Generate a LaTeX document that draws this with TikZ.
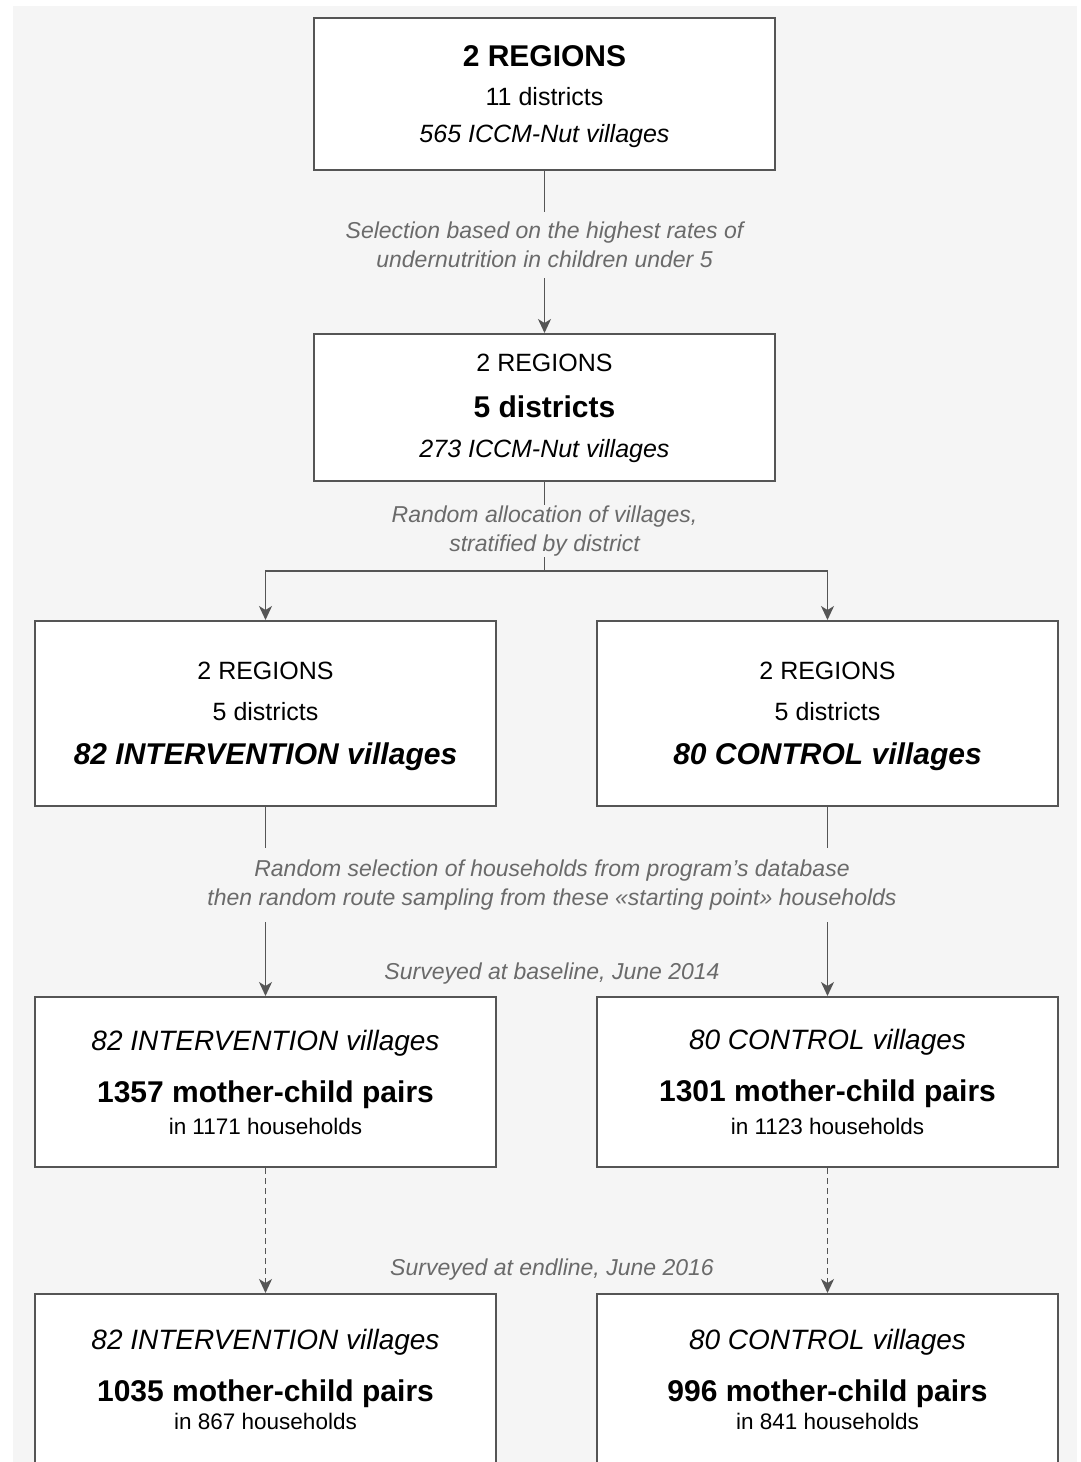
\documentclass[tikz,border=0pt]{standalone}
\usepackage{fontspec}
\setmainfont{Liberation Sans}
\usetikzlibrary{arrows.meta}
\definecolor{bgcol}{HTML}{F5F5F5}
\definecolor{edgecol}{HTML}{555555}
\definecolor{labcol}{HTML}{6A6A6A}
\newcommand{\fbig}{\fontsize{30}{36}\selectfont}
\newcommand{\freg}{\fontsize{25}{30}\selectfont}
\newcommand{\fmed}{\fontsize{28}{33}\selectfont}
\newcommand{\fsml}{\fontsize{22.5}{27}\selectfont}
\newcommand{\flab}{\fontsize{23}{28.5}\selectfont}

\begin{document}
\begin{tikzpicture}[x=1pt,y=-1pt,
    box/.style={draw=edgecol,line width=2pt,fill=white,minimum width=461pt,inner sep=0pt},
    txt/.style={anchor=base,inner sep=0pt,text=black},
    lbl/.style={text=labcol,align=center,font=\flab\itshape,inner sep=0pt},
    note/.style={text=labcol,anchor=base,font=\flab\itshape,inner sep=0pt},
    conn/.style={draw=edgecol,line width=1.4pt},
    arr/.style={conn,-{Stealth[length=14pt,width=13pt,inset=4pt]}}]
\useasboundingbox (0,0) rectangle (1080,1462);
\fill[bgcol] (13,6) rectangle (1077,1462);

\node[box,minimum height=152pt] (top) at (544.5,94) {};
\node[box,minimum height=147pt] (sel) at (544.5,407.5) {};
\node[box,minimum height=185pt] (intv) at (265.5,713.5) {};
\node[box,minimum height=185pt] (ctrl) at (827.5,713.5) {};
\node[box,minimum height=170pt] (bl1) at (265.5,1082) {};
\node[box,minimum height=170pt] (bl2) at (827.5,1082) {};
\node[box,minimum height=174pt] (el1) at (265.5,1381) {};
\node[box,minimum height=174pt] (el2) at (827.5,1381) {};

\node[txt,font=\fbig\bfseries] (topa) at (544.5,66.5) {2 REGIONS};
\node[txt,font=\freg] (topb) at (544.5,105) {11 districts};
\node[txt,font=\freg\itshape] (topc) at (544.5,142) {565 ICCM-Nut villages};

\node[txt,font=\freg] (sela) at (544.5,371) {2 REGIONS};
\node[txt,font=\fbig\bfseries] (selb) at (544.5,417) {5 districts};
\node[txt,font=\freg\itshape] (selc) at (544.5,457) {273 ICCM-Nut villages};

\node[txt,font=\freg] (intva) at (265.5,679) {2 REGIONS};
\node[txt,font=\freg] (intvb) at (265.5,720) {5 districts};
\node[txt,font=\fbig\bfseries\itshape] (intvc) at (265.5,764) {82 INTERVENTION villages};
\node[txt,font=\freg] (ctrla) at (827.5,679) {2 REGIONS};
\node[txt,font=\freg] (ctrlb) at (827.5,720) {5 districts};
\node[txt,font=\fbig\bfseries\itshape] (ctrlc) at (827.5,764) {80 CONTROL villages};

\node[txt,font=\fmed\itshape] (bl1a) at (265.5,1050) {82 INTERVENTION villages};
\node[txt,font=\fbig\bfseries] (bl1b) at (265.5,1102) {1357 mother-child pairs};
\node[txt,font=\fsml] (bl1c) at (265.5,1134) {in 1171 households};
\node[txt,font=\fmed\itshape] (bl2a) at (827.5,1049) {80 CONTROL villages};
\node[txt,font=\fbig\bfseries] (bl2b) at (827.5,1101) {1301 mother-child pairs};
\node[txt,font=\fsml] (bl2c) at (827.5,1134) {in 1123 households};

\node[txt,font=\fmed\itshape] (el1a) at (265.5,1349) {82 INTERVENTION villages};
\node[txt,font=\fbig\bfseries] (el1b) at (265.5,1401) {1035 mother-child pairs};
\node[txt,font=\fsml] (el1c) at (265.5,1429) {in 867 households};
\node[txt,font=\fmed\itshape] (el2a) at (827.5,1349) {80 CONTROL villages};
\node[txt,font=\fbig\bfseries] (el2b) at (827.5,1401) {996 mother-child pairs};
\node[txt,font=\fsml] (el2c) at (827.5,1429) {in 841 households};

\node[lbl,minimum height=66pt] (lab1) at (544.5,245)
    {Selection based on the highest rates of\\undernutrition in children under 5};
\node[lbl,minimum height=52pt] (lab2) at (544.5,531)
    {Random allocation of villages,\\stratified by district};
\node[lbl,minimum height=74pt] (lab3) at (552,885)
    {Random selection of households from program’s database\\then random route sampling from these «starting point» households};
\node[note] (base) at (552,979) {Surveyed at baseline, June 2014};
\node[note] (endl) at (552,1275) {Surveyed at endline, June 2016};
\coordinate (split) at (544.5,571);

\draw[conn] (top) -- (lab1);
\draw[arr] (lab1) -- (sel);
\draw[conn] (sel) -- (lab2);
\draw[conn] (lab2) -- (split);
\draw[arr] (split) -| (intv);
\draw[arr] (split) -| (ctrl);
\draw[conn] (intv) -- (intv |- lab3.north);
\draw[conn] (ctrl) -- (ctrl |- lab3.north);
\draw[arr] (intv |- lab3.south) -- (bl1);
\draw[arr] (ctrl |- lab3.south) -- (bl2);
\draw[arr,dash pattern=on 6pt off 4pt] (bl1) -- (el1);
\draw[arr,dash pattern=on 6pt off 4pt] (bl2) -- (el2);
\end{tikzpicture}
\end{document}
